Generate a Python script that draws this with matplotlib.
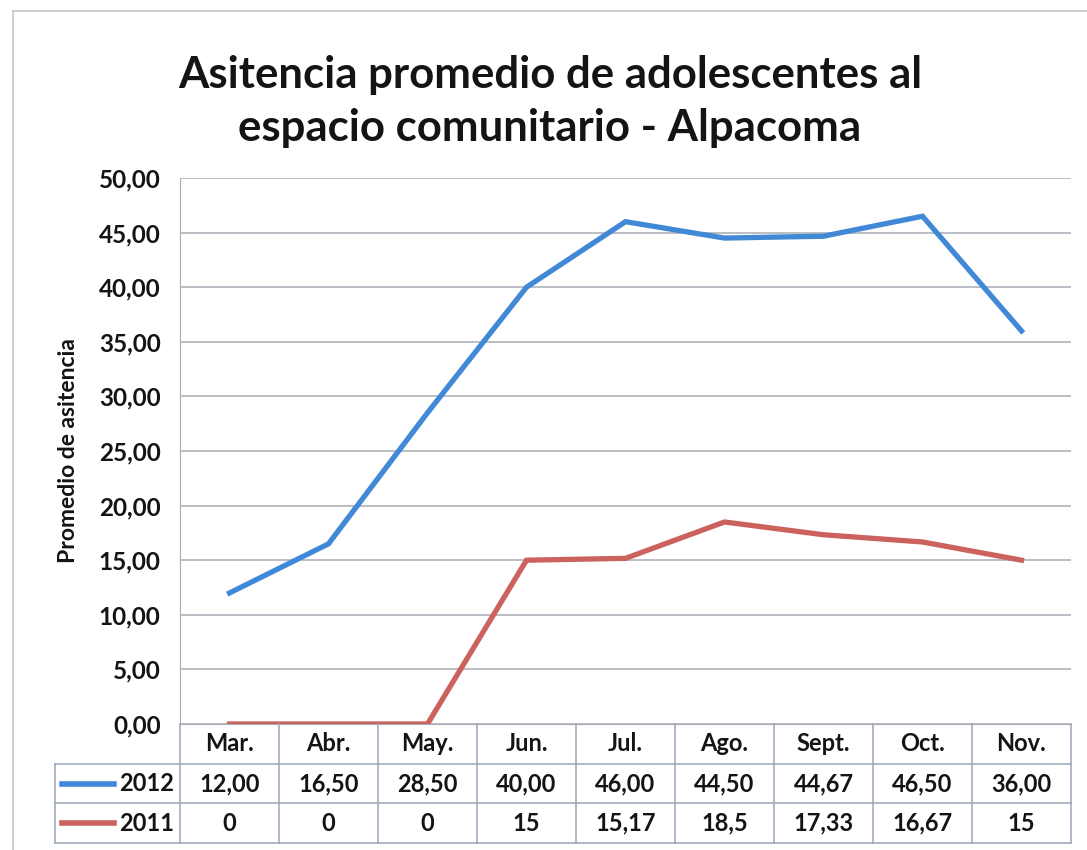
import matplotlib
matplotlib.use("Agg")
import matplotlib.pyplot as plt
from matplotlib.lines import Line2D

plt.rcParams["font.family"] = ["Lato", "DejaVu Sans"]

months = ["Mar.", "Abr.", "May.", "Jun.", "Jul.", "Ago.", "Sept.", "Oct.", "Nov."]
att_2012 = [12.00, 16.50, 28.50, 40.00, 46.00, 44.50, 44.67, 46.50, 36.00]
att_2011 = [0, 0, 0, 15, 15.17, 18.5, 17.33, 16.67, 15]
labels_2012 = ["12,00", "16,50", "28,50", "40,00", "46,00", "44,50", "44,67", "46,50", "36,00"]
labels_2011 = ["0", "0", "0", "15", "15,17", "18,5", "17,33", "16,67", "15"]
series_names = ["2012", "2011"]
y_ticks = [0, 5, 10, 15, 20, 25, 30, 35, 40, 45, 50]

BLUE = "#4189d6"
RED = "#cb625e"
GRID = "#a8acb4"
TXT = "#141414"

W, H = 1087, 850
fig = plt.figure(figsize=(W / 100, H / 100), dpi=100)

def fx(px):
    return px / W

def fy(py):
    return 1 - py / H

# plot area
x_left, x_right, y_top, y_bot = 180, 1071, 178, 724
ax = fig.add_axes([fx(x_left), fy(y_bot), fx(x_right - x_left), fy(y_top) - fy(y_bot)])
x = list(range(len(months)))
ax.plot(x, att_2012, color=BLUE, lw=3.8, solid_joinstyle="miter")
ax.plot(x, att_2011, color=RED, lw=3.8, solid_joinstyle="miter")
ax.set_xlim(-0.5, len(months) - 0.5)
ax.set_ylim(0, 50)
ax.set_yticks(y_ticks)
ax.set_yticklabels([f"{v:.2f}".replace(".", ",") for v in y_ticks],
                   fontsize=17.5, fontweight="bold", color=TXT)
ax.set_xticks([])
ax.tick_params(axis="y", length=0, pad=14)
ax.yaxis.grid(True, color=GRID, lw=1.1)
ax.set_axisbelow(True)
for s in ["top", "right"]:
    ax.spines[s].set_visible(False)
ax.spines["left"].set_color(GRID)
ax.spines["bottom"].set_color(GRID)
ax.set_ylabel("Promedio de asitencia", fontsize=16.5, fontweight="bold", color=TXT, labelpad=14)

# data table below the plot
t_left, t_bot = 55, 843
col_w = (x_right - x_left) / len(months)
x0 = -0.5 - (x_left - t_left) / col_w
tab = fig.add_axes([fx(t_left), fy(t_bot), fx(x_right - t_left), fy(y_bot) - fy(t_bot)])
tab.set_xlim(x0, len(months) - 0.5)
tab.set_ylim(0, 3)
tab.axis("off")
lc = "#9aa6b8"
for yy in [0, 1, 2]:
    tab.plot([x0, len(months) - 0.5], [yy, yy], color=lc, lw=1.1, clip_on=False)
tab.plot([x0, x0], [0, 2], color=lc, lw=1.1, clip_on=False)
for k in range(len(months) + 1):
    tab.plot([k - 0.5, k - 0.5], [0, 3], color=lc, lw=1.1, clip_on=False)

for i, m in enumerate(months):
    tab.text(i, 2.5, m, ha="center", va="center", fontsize=17, fontweight="bold", color=TXT)
    tab.text(i, 1.5, labels_2012[i], ha="center", va="center", fontsize=17, fontweight="bold", color=TXT)
    tab.text(i, 0.5, labels_2011[i], ha="center", va="center", fontsize=17, fontweight="bold", color=TXT)

for row, name, col in [(1.5, series_names[0], BLUE), (0.5, series_names[1], RED)]:
    tab.plot([x0 + 0.07, x0 + 0.6], [row, row], color=col, lw=4, clip_on=False)
    tab.text(-0.56, row, name, ha="right", va="center", fontsize=17, fontweight="bold", color=TXT)

# title
fig.text(fx(550), fy(75), "Asitencia promedio de adolescentes al", ha="center", va="center",
         fontsize=31.5, fontweight="bold", color=TXT)
fig.text(fx(550), fy(128), "espacio comunitario - Alpacoma", ha="center", va="center",
         fontsize=31.5, fontweight="bold", color=TXT)

# faint outer frame of the chart
fig.add_artist(Line2D([fx(13), fx(13)], [fy(11), fy(850)], color="#c8c8c8", lw=1.2))
fig.add_artist(Line2D([fx(13), fx(1087)], [fy(11), fy(11)], color="#c8c8c8", lw=1.2))

fig.savefig("out.png", dpi=100)
